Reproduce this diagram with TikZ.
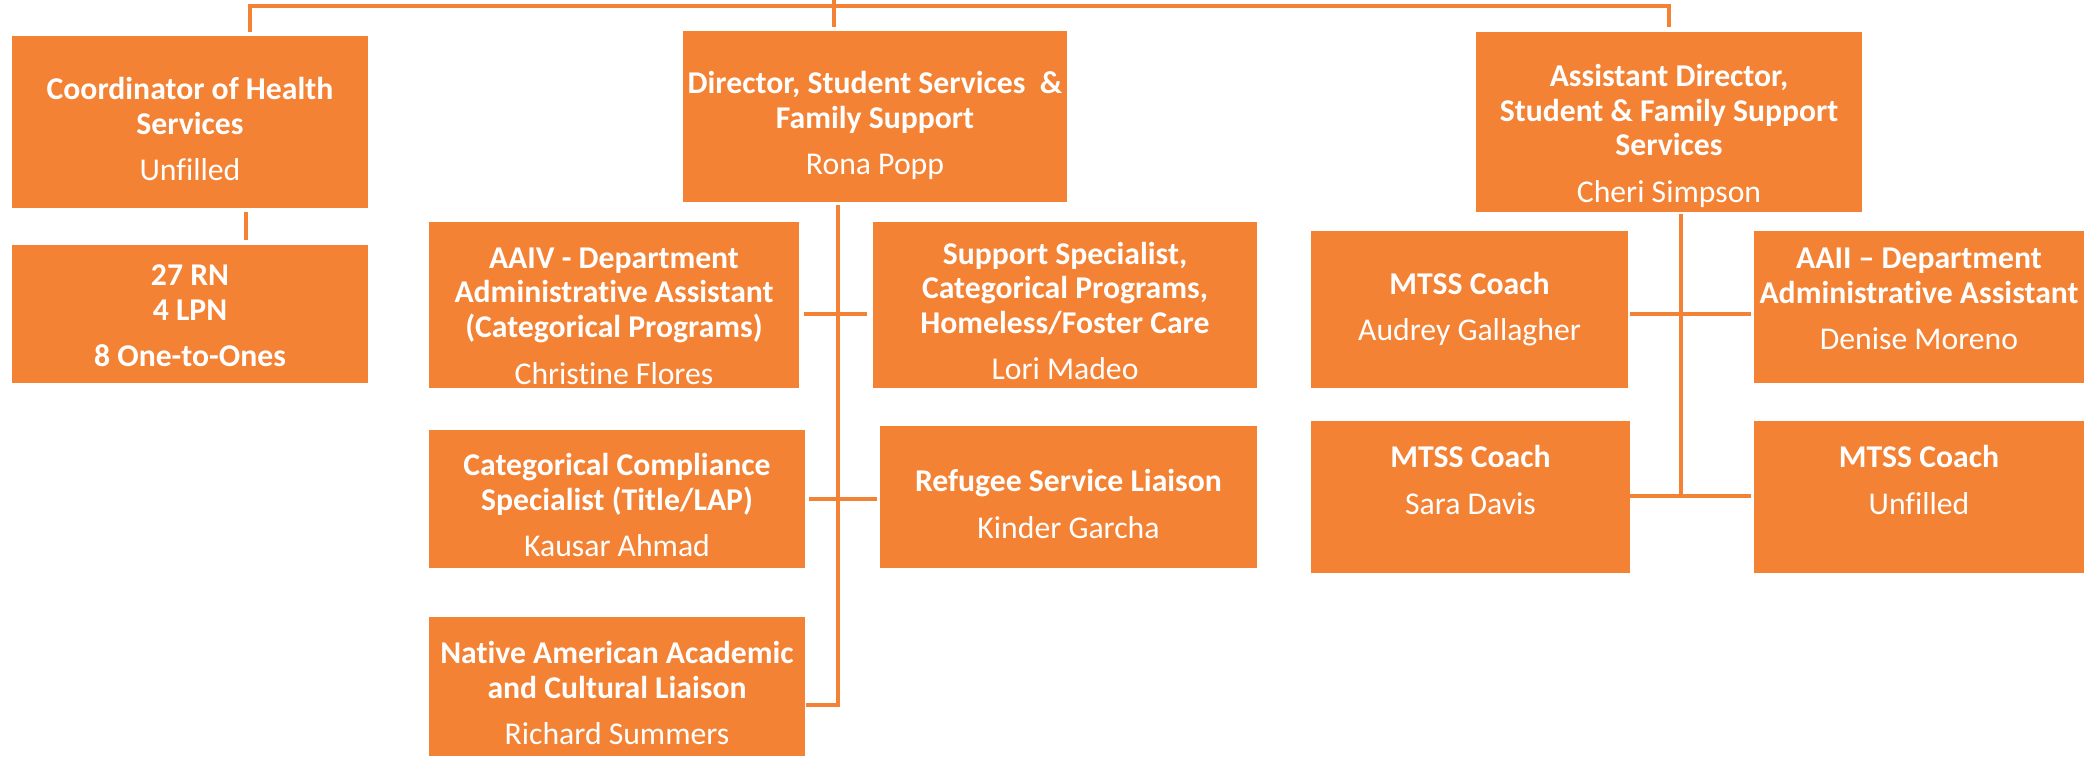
\documentclass[tikz,border=0pt]{standalone}
\usepackage{fontspec}
\setmainfont[Ligatures=NoCommon]{Carlito}
\usetikzlibrary{calc}
\definecolor{org}{RGB}{244,130,52}
\tikzset{
  box/.style={fill=org, draw=none, inner sep=0pt, outer sep=0pt},
  txt/.style={text=white, align=center, inner sep=0pt, font=\fontsize{15.85}{17.3}\selectfont},
  conn/.style={draw=org, line width=2pt, line cap=butt, line join=miter}
}
\newcommand\obox[5]{\node[box, minimum width={(#3-#2)*0.5pt}, minimum height={(#5-#4)*0.5pt}] (#1) at ({(#2+#3)/2},{(#4+#5)/2}) {};}
\newcommand\otxt[3]{\node[txt] (#1-t) at (#1.center |- 0,{#2+3}) {#3};}
\begin{document}
\begin{tikzpicture}[x=0.5pt,y=-0.5pt]
\useasboundingbox (0,0) rectangle (2086,757);
% boxes
\obox{coord}{12}{368}{36}{208}
\obox{rn}{12}{368}{245}{383}
\obox{dir}{683}{1067}{31}{202}
\obox{aaiv}{429}{799}{222}{388}
\obox{supp}{873}{1257}{222}{388}
\obox{comp}{429}{805}{430}{568}
\obox{ref}{880}{1257}{426}{568}
\obox{nat}{429}{805}{617}{756}
\obox{adir}{1476}{1862}{32}{212}
\obox{aud}{1311}{1628}{231}{388}
\obox{aaii}{1754}{2084}{231}{383}
\obox{sara}{1311}{1630}{421}{573}
\obox{unf}{1754}{2084}{421}{573}
% texts
\otxt{coord}{126}{\textbf{Coordinator of Health}\\\textbf{Services}\\[6pt]Unfilled}
\otxt{rn}{313}{\textbf{27 RN}\\\textbf{4 LPN}\\[6pt]\textbf{8 One-to-Ones}}
\otxt{dir}{122.5}{\textbf{Director, Student Services\ \ \&}\\\textbf{Family Support}\\[6pt]Rona Popp}
\otxt{aaiv}{313}{\textbf{AAIV - Department}\\\textbf{Administrative Assistant}\\\textbf{(Categorical Programs)}\\[6pt]Christine Flores}
\otxt{supp}{308}{\textbf{Support Specialist,}\\\textbf{Categorical Programs,}\\\textbf{Homeless/Foster Care}\\[6pt]Lori Madeo}
\otxt{comp}{502}{\textbf{Categorical Compliance}\\\textbf{Specialist (Title/LAP)}\\[6pt]Kausar Ahmad}
\otxt{ref}{501}{\textbf{Refugee Service Liaison}\\[6pt]Kinder Garcha}
\otxt{nat}{690}{\textbf{Native American Academic}\\\textbf{and Cultural Liaison}\\[6pt]Richard Summers}
\otxt{adir}{133}{\textbf{Assistant Director,}\\\textbf{Student \& Family Support}\\\textbf{Services}\\[6pt]Cheri Simpson}
\otxt{aud}{306}{\textbf{MTSS Coach}\\[6pt]Audrey Gallagher}
\otxt{aaii}{296}{\textbf{AAII – Department}\\\textbf{Administrative Assistant}\\[6pt]Denise Moreno}
\otxt{sara}{477}{\textbf{MTSS Coach}\\[6pt]Sara Davis}
\otxt{unf}{477}{\textbf{MTSS Coach}\\[6pt]Unfilled}
% connector coordinates
\coordinate (tl) at (250,6);
\coordinate (tr) at (1669,6);
\coordinate (tc) at (834,0);
\coordinate (rnx) at (246,0);
\coordinate (dbend) at (838,705);
\coordinate (abend) at (1681,496);
% top bus
\draw[conn] ($(coord.north -| tl)+(0,-4)$) -- (tl) -- (tr) -- ($(adir.north -| tr)+(0,-5)$);
\draw[conn] (tc) -- ($(dir.north -| tc)+(0,-4)$);
% coordinator to staff
\draw[conn] ($(coord.south -| rnx)+(0,4)$) -- ($(rn.north -| rnx)+(0,-5)$);
% director trunk
\draw[conn] ($(dir.south -| dbend)+(0,3)$) -- (dbend) -- ($(nat.east |- dbend)+(1,0)$);
\draw[conn] ($(aaiv.east |- 0,314)+(5,0)$) -- ($(supp.west |- 0,314)+(-6,0)$);
\draw[conn] ($(comp.east |- 0,499)+(4,0)$) -- ($(ref.west |- 0,499)+(-3,0)$);
% assistant director trunk
\draw[conn] ($(adir.south -| abend)+(0,2)$) -- ($(abend)+(0,-2)$);
\draw[conn] ($(aud.east |- 0,314)+(2,0)$) -- ($(aaii.west |- 0,314)+(-3,0)$);
\draw[conn] (sara.east |- abend) -- ($(unf.west |- abend)+(-3,0)$);
\end{tikzpicture}
\end{document}
